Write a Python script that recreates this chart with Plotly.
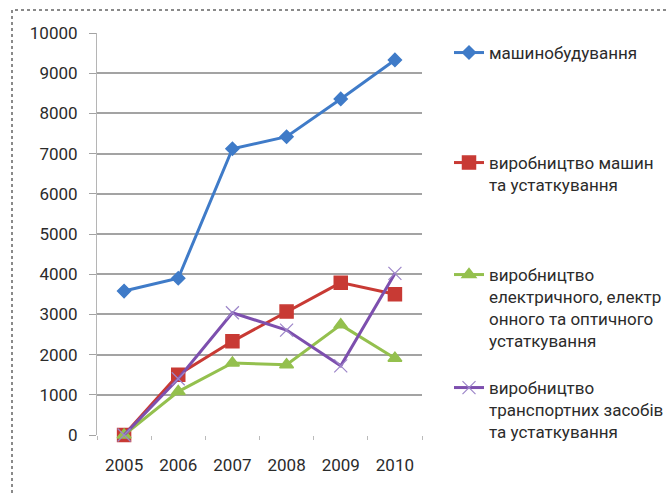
import plotly.graph_objects as go

years = ["2005", "2006", "2007", "2008", "2009", "2010"]
mashynobuduvannia = [3580, 3900, 7120, 7420, 8360, 9330]
mashyny_ustatk = [0, 1500, 2330, 3070, 3790, 3500]
elektr_optych = [0, 1080, 1790, 1750, 2740, 1910]
transport = [0, 1400, 3040, 2610, 1720, 4020]

names = [
    "машинобудування",
    "виробництво машин<br>та устаткування",
    "виробництво<br>електричного, електр<br>онного та оптичного<br>устаткування",
    "виробництво<br>транспортних засобів<br>та устаткування",
]
series = [mashynobuduvannia, mashyny_ustatk, elektr_optych, transport]
colors = ["#3f7bc8", "#c83a34", "#94c04e", "#7d4fae"]
mcolors = ["#3f7bc8", "#c83a34", "#94c04e", "#9d86c9"]
symbols = ["diamond", "square", "triangle-up", "x-thin-open"]
msizes = [10, 13, 12, 13]
mlw = [1.5, 1.5, 1.5, 1.2]
legend_ids = ["legend", "legend2", "legend3", "legend4"]

FONT = "Roboto"
TXT = "#2b2b2b"
FS = 17

fig = go.Figure()
for vals, name, c, mc, s, ms, lw, lg in zip(series, names, colors, mcolors, symbols, msizes, mlw, legend_ids):
    fig.add_trace(go.Scatter(
        x=years, y=vals, name=name, mode="lines+markers",
        line=dict(color=c, width=3),
        marker=dict(symbol=s, size=ms, color=mc, line=dict(color=mc, width=lw)),
        cliponaxis=False, legend=lg,
    ))

W, H = 666, 495
L, R, T, B = 97, 244, 33, 60
pw = W - L - R
ph = H - T - B

def px_x(p):
    return (p - L) / pw

def px_y(p):
    return (H - B - p) / ph

leg_tops = [35, 145, 257, 370]
legend_common = dict(
    font=dict(family=FONT, size=FS, color=TXT),
    bgcolor="rgba(0,0,0,0)", borderwidth=0,
    xanchor="left", yanchor="top", valign="top",
    x=px_x(449),
)
layout_legends = {}
for lg, top in zip(legend_ids, leg_tops):
    layout_legends[lg] = dict(legend_common, y=px_y(top))

fig.update_layout(
    width=W, height=H,
    margin=dict(l=L, r=R, t=T, b=B, autoexpand=False),
    paper_bgcolor="white", plot_bgcolor="white",
    font=dict(family=FONT, size=FS, color=TXT),
    showlegend=True,
    xaxis=dict(
        type="category", range=[-0.5, 5.5], automargin=False,
        showgrid=False, showline=False, zeroline=False,
        ticks="outside", tickson="boundaries", ticklen=4, tickcolor="#bbbbbb",
        ticklabelstandoff=18,
        tickfont=dict(family=FONT, size=FS, color=TXT),
    ),
    yaxis=dict(
        range=[0, 10000], dtick=1000, tickformat="d", automargin=False,
        showgrid=True, gridcolor="#a3a3a3", gridwidth=1.5,
        zeroline=False, showline=True, linecolor="#b5b5b5", linewidth=1,
        ticks="outside", ticklen=7, tickcolor="#a3a3a3",
        ticklabelstandoff=8,
        tickfont=dict(family=FONT, size=FS, color=TXT),
    ),
    shapes=[dict(
        type="rect", xref="paper", yref="paper",
        x0=px_x(12), x1=px_x(680), y0=px_y(510), y1=px_y(10),
        line=dict(color="#8a8a8a", width=2, dash="dot"),
        layer="below",
    )],
    **layout_legends,
)

fig.write_html(
    "out.html",
    config={"displayModeBar": False},
    post_script="document.body.style.margin='0';document.body.style.overflow='hidden';",
)
